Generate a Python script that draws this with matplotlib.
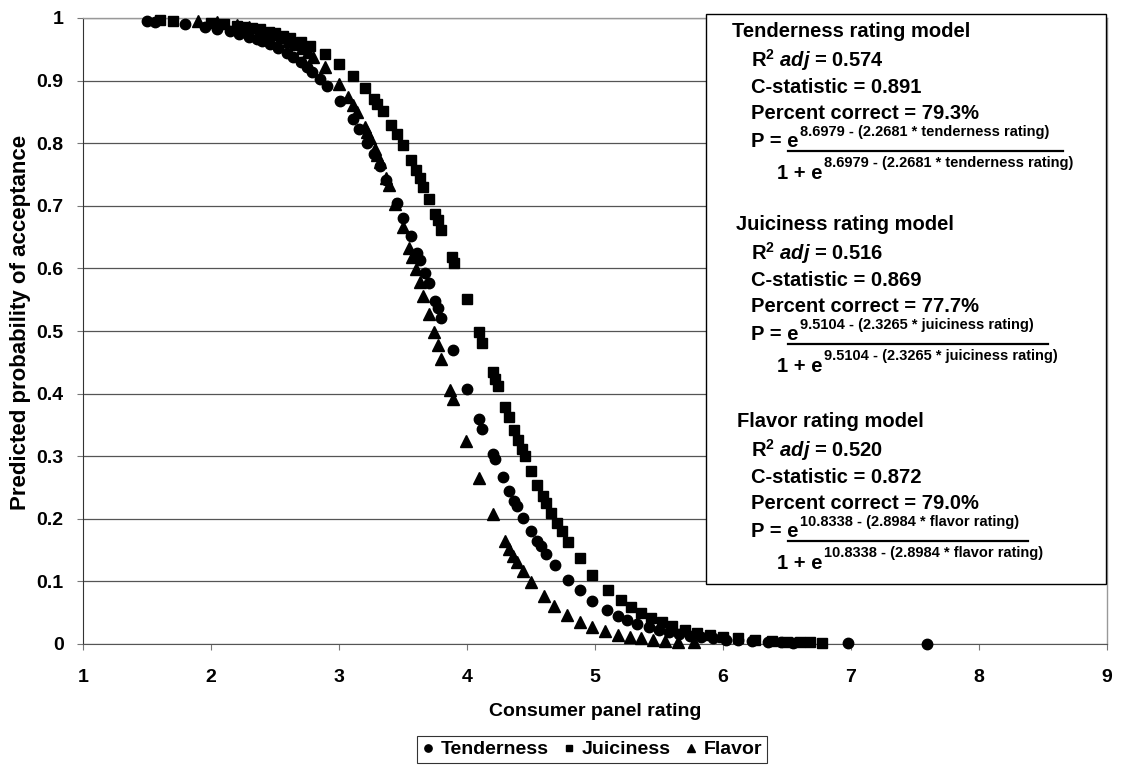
import matplotlib
matplotlib.use('Agg')
import matplotlib.pyplot as plt
from matplotlib.lines import Line2D
from matplotlib.patches import Rectangle

plt.rcParams['font.family'] = 'Liberation Sans'
plt.rcParams['font.weight'] = 'bold'
plt.rcParams['mathtext.fontset'] = 'custom'
plt.rcParams['mathtext.rm'] = 'Liberation Sans:bold'
plt.rcParams['mathtext.it'] = 'Liberation Sans:italic:bold'
plt.rcParams['mathtext.bf'] = 'Liberation Sans:bold'

# consumer ratings and predicted probability of acceptance per trait
tender_x = [1.50, 1.56, 1.80, 1.95, 2.05, 2.15, 2.22, 2.30, 2.36, 2.40, 2.46, 2.52, 2.59, 2.64,
            2.70, 2.75, 2.79, 2.85, 2.91, 3.01, 3.11, 3.16, 3.22, 3.27, 3.32, 3.37, 3.45, 3.50,
            3.56, 3.61, 3.63, 3.67, 3.70, 3.75, 3.77, 3.80, 3.89, 4.00, 4.09, 4.12, 4.20, 4.22,
            4.28, 4.33, 4.37, 4.39, 4.44, 4.50, 4.55, 4.58, 4.62, 4.69, 4.79, 4.88, 4.98, 5.09,
            5.18, 5.25, 5.33, 5.42, 5.50, 5.58, 5.66, 5.74, 5.83, 5.92, 6.02, 6.12, 6.23, 6.35,
            6.45, 6.55, 6.98, 7.59]
tender_p = [0.995, 0.994, 0.990, 0.986, 0.983, 0.979, 0.975, 0.970, 0.966, 0.963, 0.958, 0.952,
            0.944, 0.938, 0.929, 0.921, 0.914, 0.903, 0.891, 0.867, 0.838, 0.822, 0.801, 0.783,
            0.763, 0.742, 0.705, 0.681, 0.651, 0.625, 0.614, 0.592, 0.576, 0.548, 0.537, 0.520,
            0.469, 0.407, 0.359, 0.344, 0.304, 0.295, 0.267, 0.245, 0.229, 0.221, 0.202, 0.181,
            0.165, 0.156, 0.144, 0.126, 0.103, 0.0855, 0.0693, 0.0549, 0.0452, 0.0388, 0.0326,
            0.0267, 0.0224, 0.0187, 0.0157, 0.0131, 0.0107, 0.0088, 0.0070, 0.0056, 0.0044,
            0.0033, 0.0026, 0.0021, 0.0008, 0.0002]

juicy_x = [1.60, 1.70, 2.00, 2.10, 2.20, 2.25, 2.32, 2.38, 2.45, 2.50, 2.56, 2.62, 2.70, 2.77,
           2.89, 3.00, 3.11, 3.20, 3.27, 3.30, 3.34, 3.41, 3.45, 3.50, 3.56, 3.60, 3.63, 3.66,
           3.70, 3.75, 3.77, 3.80, 3.88, 3.90, 4.00, 4.09, 4.12, 4.20, 4.22, 4.24, 4.30, 4.33,
           4.37, 4.40, 4.43, 4.45, 4.50, 4.55, 4.59, 4.62, 4.66, 4.70, 4.74, 4.79, 4.88, 4.98,
           5.10, 5.20, 5.28, 5.36, 5.44, 5.52, 5.60, 5.70, 5.80, 5.90, 6.00, 6.12, 6.25, 6.38,
           6.50, 6.60, 6.68, 6.77]
juicy_p = [0.997, 0.996, 0.992, 0.990, 0.988, 0.986, 0.984, 0.982, 0.978, 0.976, 0.972, 0.968,
           0.962, 0.955, 0.942, 0.926, 0.907, 0.888, 0.870, 0.862, 0.851, 0.829, 0.815, 0.797,
           0.773, 0.757, 0.744, 0.730, 0.711, 0.687, 0.677, 0.661, 0.619, 0.608, 0.551, 0.499,
           0.481, 0.435, 0.424, 0.412, 0.379, 0.363, 0.342, 0.326, 0.311, 0.301, 0.277, 0.254,
           0.237, 0.225, 0.209, 0.194, 0.180, 0.163, 0.137, 0.111, 0.0867, 0.0699, 0.0588,
           0.0493, 0.0413, 0.0345, 0.0288, 0.0230, 0.0183, 0.0145, 0.0116, 0.0088, 0.0065,
           0.0048, 0.0036, 0.0029, 0.0024, 0.0019]

flavor_x = [1.90, 2.05, 2.20, 2.30, 2.40, 2.48, 2.55, 2.60, 2.66, 2.71, 2.76, 2.80, 2.89, 3.00,
            3.07, 3.11, 3.14, 3.20, 3.22, 3.24, 3.28, 3.30, 3.32, 3.37, 3.39, 3.44, 3.50, 3.55,
            3.57, 3.60, 3.63, 3.66, 3.70, 3.74, 3.77, 3.80, 3.87, 3.89, 3.99, 4.09, 4.20, 4.30,
            4.33, 4.36, 4.39, 4.44, 4.50, 4.60, 4.68, 4.78, 4.88, 4.98, 5.08, 5.18, 5.27, 5.36,
            5.45, 5.55, 5.65, 5.77]
flavor_p = [0.995, 0.993, 0.989, 0.985, 0.980, 0.975, 0.969, 0.964, 0.958, 0.952, 0.945, 0.938,
            0.921, 0.895, 0.874, 0.861, 0.850, 0.826, 0.818, 0.809, 0.790, 0.781, 0.770, 0.744,
            0.733, 0.703, 0.666, 0.633, 0.619, 0.599, 0.578, 0.556, 0.527, 0.498, 0.477, 0.455,
            0.405, 0.391, 0.325, 0.265, 0.208, 0.164, 0.152, 0.141, 0.131, 0.116, 0.0989, 0.0759,
            0.0612, 0.0465, 0.0352, 0.0266, 0.0200, 0.0151, 0.0117, 0.0090, 0.0069, 0.0052,
            0.0039, 0.0028]

x_ticks = [1, 2, 3, 4, 5, 6, 7, 8, 9]
y_ticks = [0, 0.1, 0.2, 0.3, 0.4, 0.5, 0.6, 0.7, 0.8, 0.9, 1.0]
y_labels = ['0', '0.1', '0.2', '0.3', '0.4', '0.5', '0.6', '0.7', '0.8', '0.9', '1']

# model summaries for the text box
model_titles = ['Tenderness rating model', 'Juiciness rating model', 'Flavor rating model']
r2_adj = ['0.574', '0.516', '0.520']
c_stat = ['0.891', '0.869', '0.872']
pct_correct = ['79.3%', '77.7%', '79.0%']
exponents = ['8.6979 - (2.2681 * tenderness rating)',
             '9.5104 - (2.3265 * juiciness rating)',
             '10.8338 - (2.8984 * flavor rating)']

W, H = 1121, 767
fig = plt.figure(figsize=(W / 100, H / 100), dpi=100)
ax = fig.add_axes([83 / W, 1 - 644 / H, (1107 - 83) / W, (644 - 18) / H])


def fp(x, y):
    # pixel position (from top-left) -> figure fraction
    return x / W, 1 - y / H


ax.plot(tender_x, tender_p, 'o', color='black', ms=7.5, clip_on=False, zorder=3, label='Tenderness')
ax.plot(juicy_x, juicy_p, 's', color='black', ms=7, clip_on=False, zorder=3, label='Juiciness')
ax.plot(flavor_x, flavor_p, '^', color='black', ms=8, clip_on=False, zorder=3, label='Flavor')

ax.set_xlim(1, 9)
ax.set_ylim(0, 1)
ax.set_xticks(x_ticks)
ax.set_xticklabels([str(v) for v in x_ticks])
ax.set_yticks(y_ticks)
ax.set_yticklabels(y_labels)
ax.tick_params(axis='both', labelsize=14, length=4, width=0.8, color='#777777')
ax.tick_params(axis='x', pad=14)
ax.tick_params(axis='y', pad=10)
ax.yaxis.grid(True, color='#555555', lw=0.9)
ax.set_axisbelow(True)
for side in ['top', 'right']:
    ax.spines[side].set_color('#999999')
    ax.spines[side].set_linewidth(1)
ax.spines['left'].set_color('#333333')
ax.spines['bottom'].set_color('#555555')

fig.text(*fp(595, 712), 'Consumer panel rating', fontsize=14, ha='center', va='center')
fig.text(*fp(21, 322), 'Predicted probability of acceptance', fontsize=16, rotation=90,
         ha='center', va='center')

leg = fig.legend(loc='upper center', bbox_to_anchor=fp(592, 736), ncol=3, fontsize=14,
                 frameon=True, fancybox=False, edgecolor='black', markerscale=0.7,
                 handlelength=0.7, handletextpad=0.3, columnspacing=0.7, borderpad=0.25,
                 borderaxespad=0)
leg.get_frame().set_linewidth(0.8)

# text box with the three logistic models
box = Rectangle(fp(706, 584), 400 / W, (584 - 14) / H, transform=fig.transFigure,
                facecolor='white', edgecolor='black', lw=1, zorder=5)
fig.add_artist(box)

renderer = fig.canvas.get_renderer()
base = [37, 230, 427]
title_x = [732, 736, 737]
bar_end = [1063, 1048, 1028]
fs = 14.5
for i in range(3):
    T = base[i]
    kw = dict(fontsize=fs, va='baseline', ha='left', zorder=6)
    fig.text(*fp(title_x[i], T), model_titles[i], **kw)
    fig.text(*fp(751, T + 30), r'R$^{2}$ $\mathit{adj}$ = ' + r2_adj[i], **kw)
    fig.text(*fp(751, T + 56), 'C-statistic = ' + c_stat[i], **kw)
    fig.text(*fp(751, T + 82), 'Percent correct = ' + pct_correct[i], **kw)

    num = fig.text(*fp(751, T + 110), 'P = e', **kw)
    x1 = num.get_window_extent(renderer).x1
    fig.text(*fp(x1 + 1, T + 99), exponents[i], fontsize=10.5, va='baseline', zorder=6)
    fig.add_artist(Line2D([788 / W, bar_end[i] / W], [1 - (T + 114) / H] * 2,
                          transform=fig.transFigure, color='black', lw=1.6, zorder=6))
    den = fig.text(*fp(777, T + 142), '1 + e', **kw)
    x1 = den.get_window_extent(renderer).x1
    fig.text(*fp(x1 + 1, T + 130), exponents[i], fontsize=10.5, va='baseline', zorder=6)

fig.savefig('out.png', dpi=100)
